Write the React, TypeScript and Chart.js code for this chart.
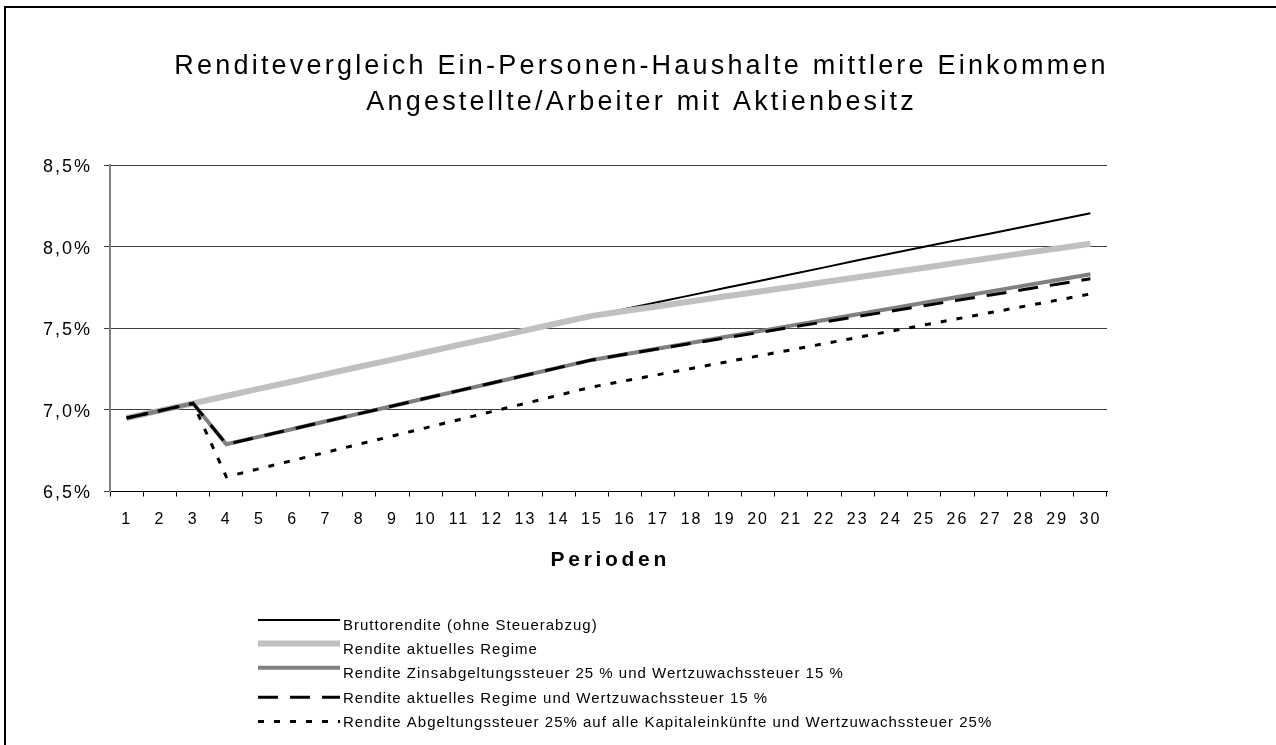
import React, { useEffect, useRef } from "react";
import { Chart, registerables } from "chart.js";

Chart.register(...registerables);

// ---------- data ----------
const titleLines = [
  "Renditevergleich Ein-Personen-Haushalte mittlere Einkommen",
  "Angestellte/Arbeiter mit Aktienbesitz",
];
const xAxisTitle = "Perioden";

const periods = [
  "1", "2", "3", "4", "5", "6", "7", "8", "9", "10",
  "11", "12", "13", "14", "15", "16", "17", "18", "19", "20",
  "21", "22", "23", "24", "25", "26", "27", "28", "29", "30",
];

const yMin = 6.5;
const yMax = 8.5;
const yStep = 0.5;

const seriesLabels = [
  "Bruttorendite (ohne Steuerabzug)",
  "Rendite aktuelles Regime",
  "Rendite Zinsabgeltungssteuer 25 % und Wertzuwachssteuer 15 %",
  "Rendite aktuelles Regime und Wertzuwachssteuer 15 %",
  "Rendite Abgeltungssteuer 25% auf alle Kapitaleinkünfte und Wertzuwachssteuer 25%",
];

const bruttoRendite = [
  6.95, 6.995, 7.04, 7.085, 7.13, 7.174, 7.219, 7.264, 7.308, 7.353,
  7.398, 7.442, 7.487, 7.532, 7.576, 7.618, 7.661, 7.703, 7.746, 7.788,
  7.831, 7.873, 7.916, 7.958, 7.999, 8.04, 8.081, 8.122, 8.163, 8.204,
];

const renditeAktuell = [
  6.95, 6.995, 7.04, 7.085, 7.13, 7.174, 7.219, 7.264, 7.308, 7.353,
  7.398, 7.442, 7.487, 7.532, 7.576, 7.606, 7.635, 7.665, 7.694, 7.724,
  7.753, 7.783, 7.812, 7.842, 7.871, 7.901, 7.93, 7.96, 7.989, 8.018,
];

const renditeZinsabgeltung = [
  6.95, 6.995, 7.04, 6.789, 6.836, 6.883, 6.93, 6.977, 7.024, 7.071,
  7.118, 7.165, 7.212, 7.259, 7.306, 7.341, 7.376, 7.411, 7.446, 7.481,
  7.516, 7.551, 7.586, 7.621, 7.656, 7.691, 7.726, 7.761, 7.796, 7.831,
];

const renditeAktuellWertzuwachs = [
  6.95, 6.995, 7.04, 6.789, 6.836, 6.883, 6.93, 6.977, 7.024, 7.071,
  7.118, 7.165, 7.212, 7.259, 7.306, 7.341, 7.374, 7.407, 7.44, 7.473,
  7.506, 7.539, 7.572, 7.605, 7.638, 7.671, 7.704, 7.737, 7.77, 7.803,
];

const renditeAbgeltungAlle = [
  6.95, 6.995, 7.04, 6.59, 6.64, 6.69, 6.74, 6.79, 6.84, 6.89,
  6.94, 6.99, 7.04, 7.09, 7.14, 7.178, 7.216, 7.254, 7.292, 7.33,
  7.368, 7.406, 7.444, 7.482, 7.52, 7.558, 7.596, 7.634, 7.672, 7.71,
];

// ---------- styling ----------
const FONT = '"Liberation Sans", Arial, Helvetica, sans-serif';
const legendLineOffsets = [-4, -5, -5, 0, 0];

const decorPlugin = {
  id: "decor",
  beforeDraw(chart: any) {
    chart.ctx.letterSpacing = "2px";
  },
  afterDraw(chart: any) {
    const ctx = chart.ctx;
    const ca = chart.chartArea;
    ctx.save();
    ctx.fillStyle = "#000";
    ctx.textBaseline = "alphabetic";

    // title
    ctx.textAlign = "center";
    ctx.font = `27px ${FONT}`;
    ctx.letterSpacing = "3.2px";
    titleLines.forEach((t, i) => {
      ctx.fillText(t, 641.6, 73.5 + i * 36);
    });

    // x axis title
    ctx.font = `bold 21px ${FONT}`;
    ctx.letterSpacing = "3.7px";
    ctx.fillText(xAxisTitle, (ca.left + ca.right) / 2 + 1.8, 565.5);

    // legend
    ctx.textAlign = "left";
    ctx.font = `15px ${FONT}`;
    ctx.letterSpacing = "1px";
    chart.data.datasets.forEach((ds: any, i: number) => {
      const base = 629.5 + i * 24.4;
      const ly = base - 5.5 + legendLineOffsets[i];
      ctx.save();
      ctx.strokeStyle = ds.borderColor;
      ctx.lineWidth = ds.borderWidth;
      ctx.lineCap = "butt";
      ctx.setLineDash(ds.borderDash || []);
      ctx.beginPath();
      ctx.moveTo(258, ly);
      ctx.lineTo(340, ly);
      ctx.stroke();
      ctx.restore();
      ctx.fillText(ds.label, 343, base);
    });
    ctx.restore();
  },
};

export default function App() {
  const ref = useRef<HTMLCanvasElement | null>(null);

  useEffect(() => {
    const canvas = ref.current;
    if (!canvas) return;
    const chart = new Chart(canvas, {
      type: "line",
      data: {
        labels: periods,
        datasets: [
          {
            label: seriesLabels[0],
            data: bruttoRendite,
            borderColor: "#000000",
            borderWidth: 2,
            order: 5,
          },
          {
            label: seriesLabels[1],
            data: renditeAktuell,
            borderColor: "#c0c0c0",
            borderWidth: 6,
            order: 4,
          },
          {
            label: seriesLabels[2],
            data: renditeZinsabgeltung,
            borderColor: "#808080",
            borderWidth: 4,
            order: 3,
          },
          {
            label: seriesLabels[3],
            data: renditeAktuellWertzuwachs,
            borderColor: "#000000",
            borderWidth: 3,
            borderDash: [20, 12],
            order: 2,
          },
          {
            label: seriesLabels[4],
            data: renditeAbgeltungAlle,
            borderColor: "#000000",
            borderWidth: 3,
            borderDash: [6, 10],
            order: 1,
          },
        ],
      },
      options: {
        responsive: false,
        animation: false,
        devicePixelRatio: 1,
        layout: { padding: { top: 165, right: 169, bottom: 213.5, left: 0 } },
        elements: {
          point: { radius: 0, hoverRadius: 0 },
          line: { tension: 0, fill: false, borderCapStyle: "butt", borderJoinStyle: "miter" },
        },
        plugins: {
          legend: { display: false },
          title: { display: false },
          tooltip: { enabled: false },
        },
        events: [],
        scales: {
          x: {
            type: "category",
            offset: true,
            grid: {
              offset: true,
              drawOnChartArea: false,
              drawTicks: true,
              tickLength: 5,
              color: "#000000",
              lineWidth: 1,
            },
            border: { color: "#000000", width: 1 },
            ticks: {
              color: "#000000",
              font: { family: FONT, size: 16 },
              padding: 13,
              maxRotation: 0,
              minRotation: 0,
              autoSkip: false,
            },
            afterFit: (s: any) => {
              s.height = 40;
            },
          },
          y: {
            type: "linear",
            min: yMin,
            max: yMax,
            ticks: {
              stepSize: yStep,
              color: "#000000",
              font: { family: FONT, size: 18 },
              padding: 12,
              labelOffset: 2,
              callback: (v: any) => Number(v).toFixed(1).replace(".", ",") + "%",
            },
            grid: { color: "#404040", lineWidth: 1, tickLength: 6 },
            border: { color: "#808080", width: 2 },
            afterFit: (s: any) => {
              s.width = 110;
            },
          },
        },
      },
      plugins: [decorPlugin],
    });
    return () => chart.destroy();
  }, []);

  return (
    <div
      style={{
        position: "fixed",
        left: 0,
        top: 0,
        width: 1276,
        height: 745,
        overflow: "hidden",
        background: "#ffffff",
      }}
    >
      <div
        style={{
          position: "absolute",
          left: 4,
          top: 6,
          width: 1400,
          height: 900,
          border: "2px solid #000",
          boxSizing: "border-box",
        }}
      />
      <canvas
        ref={ref}
        width={1276}
        height={745}
        style={{ position: "absolute", left: 0, top: 0, width: 1276, height: 745 }}
      />
    </div>
  );
}
